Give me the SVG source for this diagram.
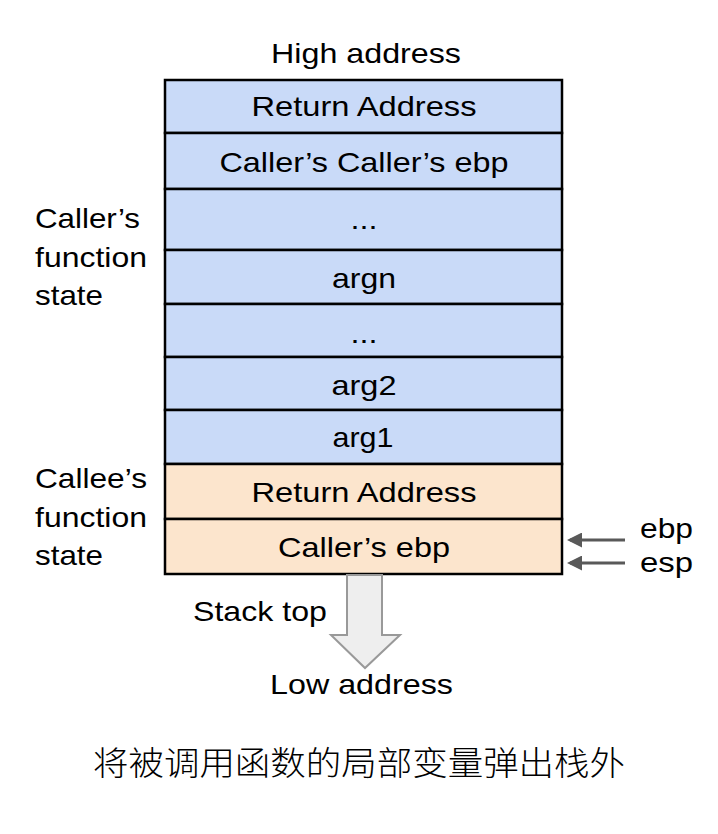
<svg xmlns="http://www.w3.org/2000/svg" width="718" height="834" viewBox="0 0 718 834">
<style>
.t{font-family:"Liberation Sans",Arial,sans-serif;font-size:28px;fill:#000}
.c{text-anchor:middle}
.blue{fill:#c9daf8;stroke:#000;stroke-width:2.5}
.orange{fill:#fce5cd;stroke:#000;stroke-width:2.5}
.ptr{stroke:#595959;stroke-width:3;fill:none}
.zh{font-family:"Noto Sans CJK SC","Noto Sans CJK TC",sans-serif;font-size:33px;font-weight:300;fill:#000;text-anchor:middle}
</style>
<defs>
<marker id="ah" markerWidth="5" markerHeight="5" refX="4" refY="2.5" orient="auto" markerUnits="strokeWidth">
<path d="M0,0 L5,2.5 L0,5 Z" fill="#595959"/>
</marker>
</defs>
<rect width="718" height="834" fill="#fff"/>
<text class="t c" x="366" y="63" textLength="190" lengthAdjust="spacingAndGlyphs">High address</text>
<g id="row1"><rect class="blue" x="165" y="80" width="397" height="53"/><text class="t c" x="364" y="116" textLength="225" lengthAdjust="spacingAndGlyphs">Return Address</text></g>
<g id="row2"><rect class="blue" x="165" y="133" width="397" height="56"/><text class="t c" x="364" y="172" textLength="289" lengthAdjust="spacingAndGlyphs">Caller’s Caller’s ebp</text></g>
<g id="row3"><rect class="blue" x="165" y="189" width="397" height="61"/><text class="t c" x="364" y="229" textLength="27" lengthAdjust="spacingAndGlyphs">...</text></g>
<g id="row4"><rect class="blue" x="165" y="250" width="397" height="54"/><text class="t c" x="364" y="288" textLength="64" lengthAdjust="spacingAndGlyphs">argn</text></g>
<g id="row5"><rect class="blue" x="165" y="304" width="397" height="53"/><text class="t c" x="364" y="343" textLength="27" lengthAdjust="spacingAndGlyphs">...</text></g>
<g id="row6"><rect class="blue" x="165" y="357" width="397" height="53"/><text class="t c" x="364" y="395" textLength="65" lengthAdjust="spacingAndGlyphs">arg2</text></g>
<g id="row7"><rect class="blue" x="165" y="410" width="397" height="54"/><text class="t c" x="363" y="447" textLength="61" lengthAdjust="spacingAndGlyphs">arg1</text></g>
<g id="row8"><rect class="orange" x="165" y="464" width="397" height="55"/><text class="t c" x="364" y="502" textLength="225" lengthAdjust="spacingAndGlyphs">Return Address</text></g>
<g id="row9"><rect class="orange" x="165" y="519" width="397" height="55"/><text class="t c" x="364" y="557" textLength="172" lengthAdjust="spacingAndGlyphs">Caller’s ebp</text></g>
<g id="callerLabel">
<text class="t" x="35" y="228" textLength="105" lengthAdjust="spacingAndGlyphs">Caller’s</text>
<text class="t" x="35" y="267" textLength="112" lengthAdjust="spacingAndGlyphs">function</text>
<text class="t" x="35" y="305" textLength="68" lengthAdjust="spacingAndGlyphs">state</text>
</g>
<g id="calleeLabel">
<text class="t" x="35" y="488" textLength="112" lengthAdjust="spacingAndGlyphs">Callee’s</text>
<text class="t" x="35" y="527" textLength="112" lengthAdjust="spacingAndGlyphs">function</text>
<text class="t" x="35" y="565" textLength="68" lengthAdjust="spacingAndGlyphs">state</text>
</g>
<g id="connectors">
<line class="ptr" x1="625" y1="540" x2="570" y2="540" marker-end="url(#ah)"/>
<line class="ptr" x1="625" y1="563" x2="570" y2="563" marker-end="url(#ah)"/>
<path d="M347,575 L382,575 L382,635 L400,635 L365,668 L331,635 L347,635 Z" fill="#eeeeee" stroke="#999" stroke-width="2"/>
</g>
<g id="ebp"><text class="t" x="640" y="538" textLength="53" lengthAdjust="spacingAndGlyphs">ebp</text></g>
<g id="esp"><text class="t" x="640" y="572" textLength="53" lengthAdjust="spacingAndGlyphs">esp</text></g>
<text class="t" x="193" y="621" textLength="134" lengthAdjust="spacingAndGlyphs">Stack top</text>
<text class="t" x="270" y="694" textLength="183" lengthAdjust="spacingAndGlyphs">Low address</text>
<text class="zh" x="359" y="775" textLength="532" lengthAdjust="spacingAndGlyphs">将被调用函数的局部变量弹出栈外</text>
</svg>
